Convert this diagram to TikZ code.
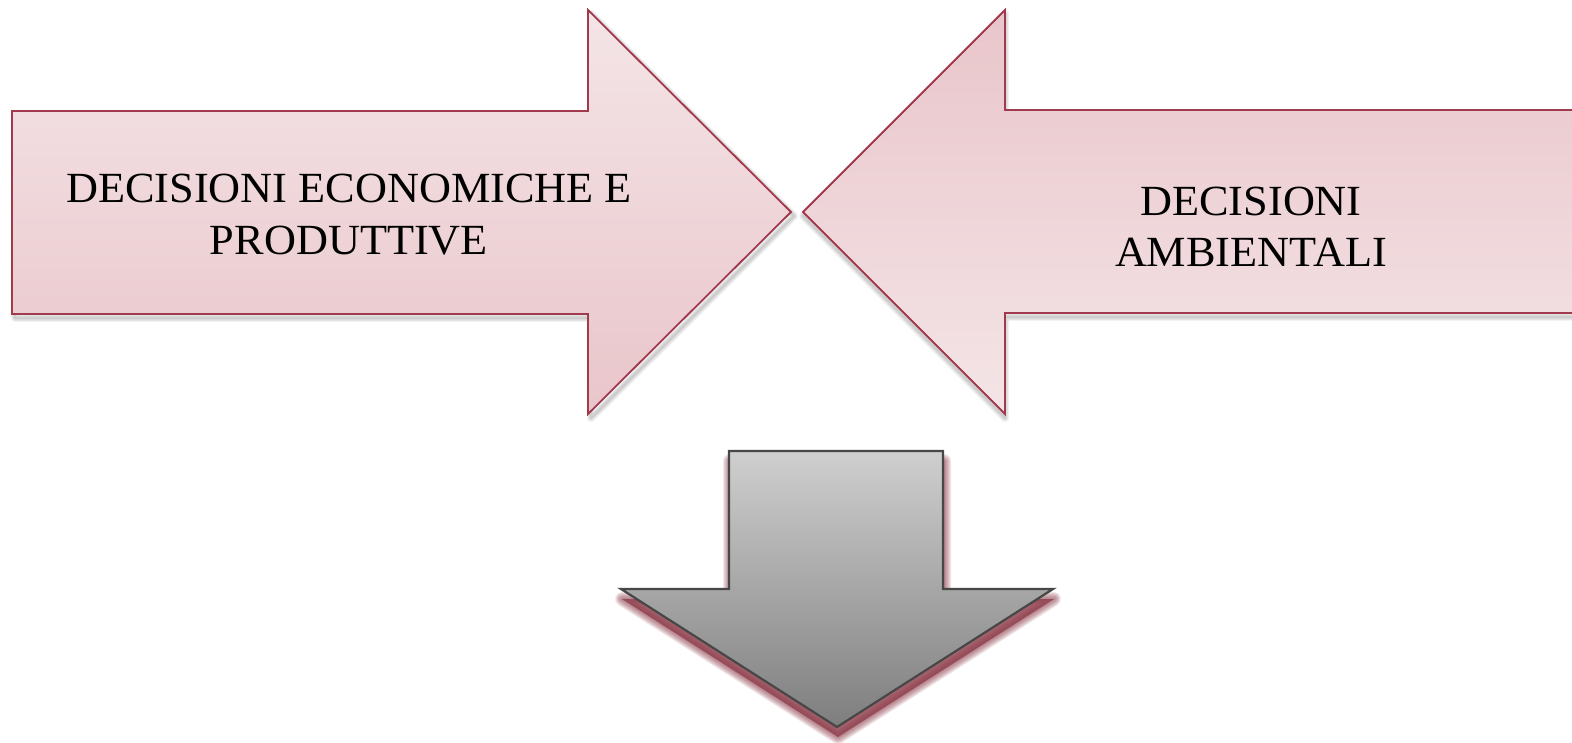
\documentclass[tikz,border=0pt]{standalone}
\usepackage{fontspec}
\setmainfont[FakeStretch=1.03]{Liberation Serif}

\definecolor{rimred}{HTML}{A23A4E}
\definecolor{pinklight}{HTML}{F4E5E7}
\definecolor{pinkdark}{HTML}{E9C5CA}
\definecolor{greytop}{HTML}{CFCFCF}
\definecolor{greybot}{HTML}{7E7E7E}
\definecolor{greyrim}{HTML}{474747}
\definecolor{glowred}{HTML}{8F3E4C}

% outlines of the three block arrows
\newcommand\shapeEcon{(12,111) -- (588,111) -- (588,10) -- (791,212) -- (588,414) -- (588,314) -- (12,314) -- cycle}
\newcommand\shapeAmb{(1590,110) -- (1005,110) -- (1005,10) -- (803,212) -- (1005,414) -- (1005,313) -- (1590,313) -- cycle}
\newcommand\shapeDown{(729,451) -- (943,451) -- (943,589) -- (1053,589) -- (837,727) -- (621,589) -- (729,589) -- cycle}

\tikzset{
  pinkarrow/.style={draw=rimred, line width=1.8pt, line join=miter},
  greyarrow/.style={draw=greyrim, line width=2.2pt, line join=miter,
    top color=greytop, bottom color=greybot},
  softshade/.style={draw=black, line join=round, opacity=0.035},
  redglow/.style={draw=glowred, line join=round, opacity=0.12},
  lbl/.style={align=center, inner sep=0pt, text=black}
}

\begin{document}
\begin{tikzpicture}[x=1pt, y=-1pt]
  \fill[white] (0,0) rectangle (1572,743);
  \useasboundingbox (0,0) rectangle (1572,743);

  % faint drop shadows under the pink arrows
  \foreach \w in {1,...,6} {
    \draw[softshade, line width=\w*1.4pt, shift={(3,4)}] \shapeEcon;
    \draw[softshade, line width=\w*1.4pt, shift={(0,4)}] \shapeAmb;
  }

  % pink arrows
  \path[pinkarrow, top color=pinklight, bottom color=pinkdark] \shapeEcon;
  \path[pinkarrow, top color=pinkdark, bottom color=pinklight] \shapeAmb;

  % red glow under the grey arrow
  \fill[glowred, opacity=0.8, shift={(1,10)}] \shapeDown;
  \foreach \w in {2,4,...,14} {
    \draw[redglow, line width=\w pt, shift={(1,10)}] \shapeDown;
  }

  % grey arrow
  \path[greyarrow] \shapeDown;

  % labels
  \node[lbl, font=\fontsize{43}{52}\selectfont] (econ) at (349,215)
    {DECISIONI ECONOMICHE E\\PRODUTTIVE};
  \node[lbl, font=\fontsize{43}{51}\selectfont] (amb) at (1251,227)
    {DECISIONI\\AMBIENTALI};
\end{tikzpicture}
\end{document}
